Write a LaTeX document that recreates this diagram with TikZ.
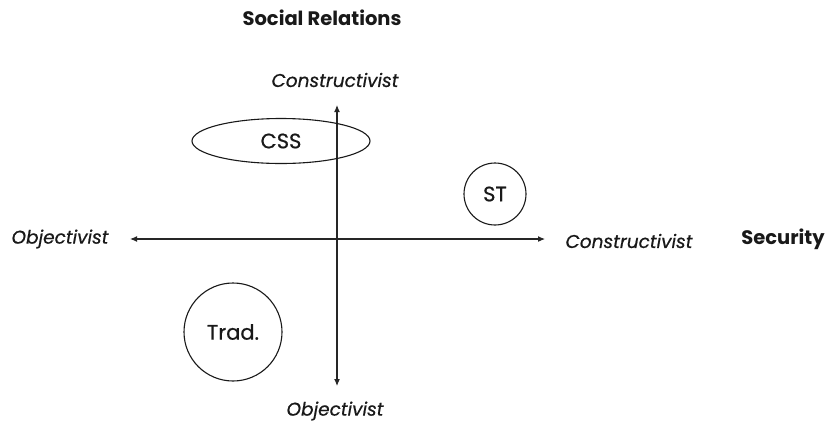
\documentclass[tikz,border=0pt]{standalone}
\usepackage{fontspec}
\setmainfont{Poppins}
\newfontfamily\medfont[FakeBold=0.6]{Poppins}
\usetikzlibrary{arrows.meta,shapes.geometric}
\begin{document}
\begin{tikzpicture}[x=1pt,y=-1pt,
  axis/.style={line width=1.1pt,{Latex[length=7pt,width=6pt]}-{Latex[length=7pt,width=6pt]},color=black!85},
  lab/.style={font=\medfont\fontsize{18.5}{20}\selectfont\itshape,text=black!90},
  ttl/.style={font=\fontsize{19.5}{21}\selectfont\bfseries,text=black!90},
  blob/.style={draw=black!90,line width=1.1pt,font=\medfont\fontsize{21}{23}\selectfont,text=black!90}]
\useasboundingbox (0,0) rectangle (834,426);
\node[lab] (tl) at (335,80) {Constructivist};
\node[lab] (bl) at (335,411) {Objectivist};
\node[lab] (ll) at (60,239) {Objectivist};
\node[lab] (rl) at (629,241) {Constructivist};
\node[ttl] (sec) at (783,239) {Security};
\node[ttl] (soc) at (322,18) {Social Relations};
\coordinate (L) at (130,239);
\coordinate (R) at (545,239);
\coordinate (T) at (337,105);
\coordinate (B) at (337,386);
\draw[axis] (L) -- (R);
\draw[axis] (T) -- (B);
\node[blob,ellipse,minimum width=178pt,minimum height=45pt,inner sep=0pt] (css) at (281,141) {CSS};
\node[blob,circle,minimum size=62pt,inner sep=0pt] (st) at (495,194) {ST};
\node[blob,circle,minimum size=98pt,inner sep=0pt] (trad) at (233,332) {Trad.};
\end{tikzpicture}
\end{document}
